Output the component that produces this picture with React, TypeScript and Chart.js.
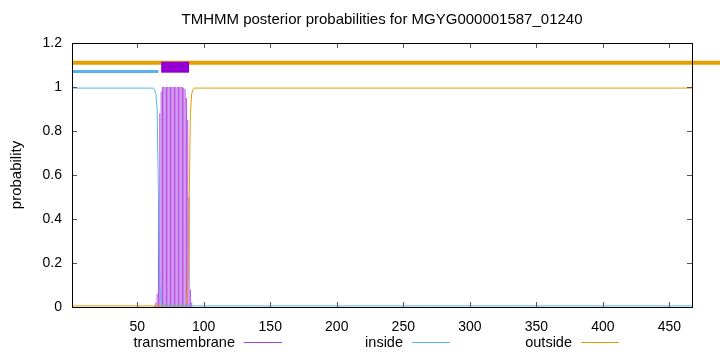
import React, { useEffect, useRef } from "react";
import { Chart, registerables } from "chart.js";

Chart.register(...registerables);

const TITLE = "TMHMM posterior probabilities for MGYG000001587_01240";
const SEQ_LEN = 467;
const X_TICKS = [50, 100, 150, 200, 250, 300, 350, 400, 450];
const Y_TICKS = [0, 0.2, 0.4, 0.6, 0.8, 1, 1.2];

// transmembrane posterior per residue
const tmResidues = [63, 64, 65, 66, 67, 68, 69, 70, 71, 72, 73, 74, 75, 76, 77, 78, 79, 80, 81, 82, 83, 84, 85, 86, 87, 88, 89, 90, 91];
const tmProb = [0.005, 0.02, 0.06, 0.5, 0.88, 0.98, 1, 1, 1, 1, 1, 1, 1, 1, 1, 1, 1, 1, 1, 1, 1, 1, 0.995, 0.99, 0.95, 0.85, 0.5, 0.08, 0.02];

// inside posterior (breakpoints)
const insideX = [1, 62, 63, 64, 65, 66, 67, 68, 69, 467];
const insideY = [0.995, 0.995, 0.99, 0.97, 0.9, 0.5, 0.1, 0.02, 0.005, 0.005];

// outside posterior (breakpoints)
const outsideX = [1, 86, 87, 88, 89, 90, 91, 92, 93, 467];
const outsideY = [0.005, 0.005, 0.02, 0.1, 0.45, 0.88, 0.97, 0.99, 0.995, 0.995];

// predicted topology bars at the top (outside bar runs past the frame, as in the source)
const outsideBarX = [1, 489];
const outsideBarY = [1.11, 1.11];
const insideBarX = [1, 66];
const insideBarY = [1.07, 1.07];
const tmBarX = [68, 89];
const tmBarY = [1.09, 1.09];

const LEGEND = [
  { label: "transmembrane", color: "#a040d8" },
  { label: "inside", color: "#56b4e9" },
  { label: "outside", color: "#e69f00" },
];

const FONT = "'Liberation Sans', Arial, Helvetica, sans-serif";

const pts = (xs: number[], ys: number[]) => xs.map((x, i) => ({ x, y: ys[i] }));

export default function App() {
  const ref = useRef<HTMLCanvasElement | null>(null);
  useEffect(() => {
    if (!ref.current) return;
    const decor = {
      id: "decor",
      afterDraw(chart: any) {
        const ctx = chart.ctx;
        const a = chart.chartArea;
        const xs = chart.scales.x;
        const ys = chart.scales.y;
        ctx.save();
        // ticks
        ctx.strokeStyle = "#555";
        ctx.lineWidth = 1;
        ctx.beginPath();
        X_TICKS.forEach((v) => {
          const px = Math.round(xs.getPixelForValue(v)) + 0.5;
          ctx.moveTo(px, a.bottom);
          ctx.lineTo(px, a.bottom - 5);
          ctx.moveTo(px, a.top);
          ctx.lineTo(px, a.top + 5);
        });
        Y_TICKS.forEach((v) => {
          const py = Math.round(ys.getPixelForValue(v)) + 0.5;
          ctx.moveTo(a.left, py);
          ctx.lineTo(a.left + 5, py);
          ctx.moveTo(a.right, py);
          ctx.lineTo(a.right - 5, py);
        });
        ctx.stroke();
        // frame
        ctx.strokeStyle = "#000";
        ctx.strokeRect(Math.round(a.left) + 0.5, Math.round(a.top) + 0.5, Math.round(a.right - a.left), Math.round(a.bottom - a.top));
        // title
        ctx.fillStyle = "#000";
        ctx.font = `15px ${FONT}`;
        ctx.textAlign = "center";
        ctx.textBaseline = "middle";
        ctx.fillText(TITLE, (a.left + a.right) / 2, 20);
        // y title
        ctx.save();
        ctx.translate(17, (a.top + a.bottom) / 2);
        ctx.rotate(-Math.PI / 2);
        ctx.fillText("probability", 0, 0);
        ctx.restore();
        // legend
        const ends = [235, 403, 572];
        ctx.font = `14.5px ${FONT}`;
        ctx.textAlign = "right";
        LEGEND.forEach((l, i) => {
          ctx.fillStyle = "#000";
          ctx.fillText(l.label, ends[i], 342.5);
          ctx.strokeStyle = l.color;
          ctx.beginPath();
          ctx.moveTo(ends[i] + 9, 342.5);
          ctx.lineTo(ends[i] + 47, 342.5);
          ctx.stroke();
        });
        ctx.restore();
      },
    };
    const line = (data: any, color: string, width: number, order: number, clip?: boolean) => ({
      type: "line",
      data,
      borderColor: color,
      backgroundColor: color,
      borderWidth: width,
      pointRadius: 0,
      tension: 0,
      fill: false,
      borderCapStyle: "butt",
      order,
      ...(clip === false ? { clip: false } : {}),
    });
    const chart = new Chart(ref.current, {
      type: "bar",
      data: {
        datasets: [
          {
            type: "bar",
            data: pts(tmResidues, tmProb),
            backgroundColor: "#b450e4",
            borderWidth: 0,
            barPercentage: 1,
            categoryPercentage: 0.75,
            order: 5,
          } as any,
          line(pts(insideX, insideY), "#56b4e9", 1, 3),
          line(pts(outsideX, outsideY), "#e69f00", 1, 3),
          line(pts(outsideBarX, outsideBarY), "#e69f00", 4, 2, false),
          line(pts(insideBarX, insideBarY), "#56b4e9", 3, 2),
          line(pts(tmBarX, tmBarY), "#9400d3", 11, 1),
        ],
      },
      options: {
        animation: false,
        responsive: false,
        layout: { padding: { top: 43, right: 28, left: 0, bottom: 0 } },
        plugins: { legend: { display: false }, tooltip: { enabled: false }, title: { display: false } },
        scales: {
          x: {
            type: "linear",
            min: 1,
            max: SEQ_LEN,
            offset: false,
            grid: { display: false, drawTicks: false, offset: false },
            border: { display: false },
            afterFit: (s: any) => { s.height = 45; },
            afterBuildTicks: (s: any) => { s.ticks = X_TICKS.map((v) => ({ value: v })); },
            ticks: { color: "#000", font: { family: FONT, size: 14 }, padding: 12, maxRotation: 0, autoSkip: false },
          },
          y: {
            min: 0,
            max: 1.2,
            grid: { display: false, drawTicks: false },
            border: { display: false },
            afterFit: (s: any) => { s.width = 72; },
            afterBuildTicks: (s: any) => { s.ticks = Y_TICKS.map((v) => ({ value: v })); },
            ticks: {
              color: "#000",
              font: { family: FONT, size: 14 },
              padding: 10,
              callback: (v: any) => String(Number(Number(v).toFixed(1))),
            },
          },
        },
      },
      plugins: [decor],
    } as any);
    return () => chart.destroy();
  }, []);
  return (
    <div style={{ position: "absolute", left: 0, top: 0, width: 720, height: 352, background: "#fff" }}>
      <canvas ref={ref} width={720} height={352} style={{ width: 720, height: 352, display: "block" }} />
    </div>
  );
}
